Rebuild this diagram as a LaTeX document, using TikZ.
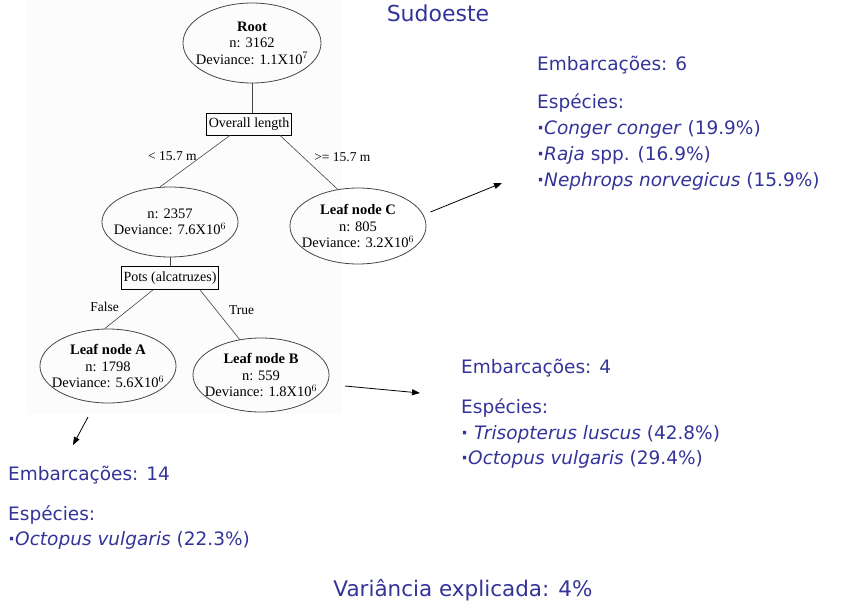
\documentclass[tikz,border=0pt]{standalone}
\usepackage{fontspec}
\setmainfont{Liberation Serif}
\newfontfamily\slidefont{DejaVu Sans}
\usetikzlibrary{shapes.geometric,arrows.meta}

\definecolor{slideblue}{RGB}{51,51,153}
\definecolor{treegray}{RGB}{70,70,70}
\definecolor{pastebg}{RGB}{252,252,252}

\newcommand{\bul}{\textbf{·}}

\tikzset{
  treenode/.style={ellipse, draw=treegray, thick, inner xsep=-8pt, inner ysep=0pt,
    align=center, font=\fontsize{14.5}{16.5}\selectfont},
  splitbox/.style={draw, thick, inner sep=2pt, minimum height=22pt,
    font=\fontsize{14}{16}\selectfont},
  branch/.style={draw=treegray, semithick},
  branchlabel/.style={text=black, font=\fontsize{13.5}{15}\selectfont, inner sep=0pt},
  infotext/.style={slideblue, anchor=base west, inner sep=0pt,
    font=\slidefont\fontsize{18.5}{22}\selectfont},
  pointer/.style={-{Triangle[length=8pt,width=6pt]}, thick}
}

\begin{document}
\begin{tikzpicture}[x=1pt,y=-1pt]
  \useasboundingbox (0,0) rectangle (852,605);
  % pasted tree picture
  \fill [pastebg] (27,0) rectangle (342,414);

  % Title
  \node [slideblue, anchor=base, inner sep=0pt, font=\slidefont\fontsize{22}{26}\selectfont]
    (title) at (438,21) {Sudoeste};

  % Tree nodes
  \node [treenode, minimum width=138pt, minimum height=80pt] (root) at (252,43)
    {\textbf{Root}\\n: 3162\\Deviance: 1.1X10$^7$};
  \node [splitbox] (split1) at (249,124) {Overall length};
  \node [treenode, minimum width=134pt, minimum height=70pt] (mid) at (170,222)
    {n: 2357\\Deviance: 7.6X10$^6$};
  \node [treenode, minimum width=132pt, minimum height=76pt] (leafC) at (358,226)
    {\textbf{Leaf node C}\\n: 805\\Deviance: 3.2X10$^6$};
  \node [splitbox, minimum height=23pt] (split2) at (170,278) {Pots (alcatruzes)};
  \node [treenode, minimum width=134pt, minimum height=74pt] (leafA) at (108,366)
    {\textbf{Leaf node A}\\n: 1798\\Deviance: 5.6X10$^6$};
  \node [treenode, minimum width=134pt, minimum height=74pt] (leafB) at (261,375)
    {\textbf{Leaf node B}\\n: 559\\Deviance: 1.8X10$^6$};

  % Branches
  \draw [branch] (root.south) -- (root.south |- split1.north);
  \draw [branch] ([xshift=-19pt]split1.south) -- (mid.106)
    node [branchlabel, pos=0.4, left=5pt] (lbllt) {< 15.7 m};
  \draw [branch] ([xshift=31pt]split1.south) -- (leafC.119)
    node [branchlabel, pos=0.4, right=11pt] (lblge) {>= 15.7 m};
  \draw [branch] (mid.south) -- (mid.south |- split2.north);
  \draw [branch] ([xshift=-17pt]split2.south) -- (leafA.95)
    node [branchlabel, pos=0.45, left=12pt] (lblfalse) {False};
  \draw [branch] ([xshift=30pt]split2.south) -- (leafB.121)
    node [branchlabel, pos=0.4, right=13pt] (lbltrue) {True};

  % Descriptions of the leaves
  \node [infotext] (infoC1) at (537,70) {Embarcações: 6};
  \node [infotext] (infoC2) at (537,108) {Espécies:};
  \node [infotext] (infoC3) at (537,134) {\bul\textit{Conger conger} (19.9\%)};
  \node [infotext] (infoC4) at (537,160) {\bul\textit{Raja} spp. (16.9\%)};
  \node [infotext] (infoC5) at (537,186) {\bul\textit{Nephrops norvegicus} (15.9\%)};

  \node [infotext] (infoB1) at (461,373) {Embarcações: 4};
  \node [infotext] (infoB2) at (461,413) {Espécies:};
  \node [infotext] (infoB3) at (461,439) {\bul\ \textit{Trisopterus luscus} (42.8\%)};
  \node [infotext] (infoB4) at (461,464) {\bul\textit{Octopus vulgaris} (29.4\%)};

  \node [infotext] (infoA1) at (8,480) {Embarcações: 14};
  \node [infotext] (infoA2) at (8,520) {Espécies:};
  \node [infotext] (infoA3) at (8,545) {\bul\textit{Octopus vulgaris} (22.3\%)};

  % Pointers
  \coordinate (tipC) at (502,183);
  \coordinate (tipB) at (420,393);
  \coordinate (tipA) at (73,445);
  \draw [pointer] ([xshift=4pt]leafC.east |- 0,212) -- (tipC);
  \draw [pointer] (345,386) -- (tipB);
  \draw [pointer] (88,417) -- (tipA);

  % Footer
  \node [slideblue, anchor=base, inner sep=0pt, font=\slidefont\fontsize{21.5}{26}\selectfont]
    (footer) at (463,596) {Variância explicada: 4\%};
\end{tikzpicture}
\end{document}
